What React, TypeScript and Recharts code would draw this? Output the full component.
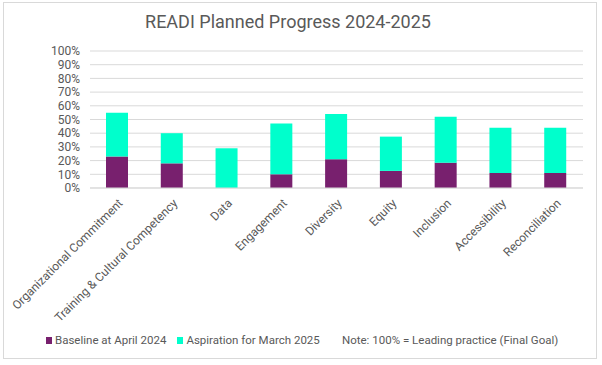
import { BarChart, Bar, XAxis, YAxis, CartesianGrid, Legend } from 'recharts';

// Values (fractions of the final goal)
const categories = [
  'Organizational Commitment',
  'Training & Cultural Competency',
  'Data',
  'Engagement',
  'Diversity',
  'Equity',
  'Inclusion',
  'Accessibility',
  'Reconciliation',
];
const baseline = [0.23, 0.18, 0, 0.1, 0.21, 0.125, 0.185, 0.11, 0.11];
// stacked on top of baseline
const aspiration = [0.32, 0.22, 0.29, 0.37, 0.33, 0.25, 0.335, 0.33, 0.33];
const yTicks = [0, 0.1, 0.2, 0.3, 0.4, 0.5, 0.6, 0.7, 0.8, 0.9, 1];
const seriesNames = ['Baseline at April 2024', 'Aspiration for March 2025'];

const PURPLE = '#78206E';
const TEAL = '#00FFCC';
const TEXT = '#595959';
const FONT = 'Roboto, "Liberation Sans", sans-serif';

const data = categories.map((name, i) => ({
  name,
  baseline: baseline[i],
  aspiration: aspiration[i],
}));

function AngledTick({ x, y, payload }: any) {
  return (
    <g transform={`translate(${x + 6},${y + 16})`}>
      <text
        transform="rotate(-45)"
        textAnchor="end"
        fill={TEXT}
        fontSize={12}
        fontFamily={FONT}
      >
        {payload.value}
      </text>
    </g>
  );
}

function LegendBox({ payload }: any) {
  // keep series order as in the original legend
  const items = seriesNames
    .map((n) => (payload || []).find((p: any) => p.value === n))
    .filter(Boolean);
  return (
    <div style={{ position: 'relative', display: 'flex', alignItems: 'center', fontFamily: FONT, fontSize: 11.5, color: TEXT }}>
      {items.map((p: any) => (
        <span key={p.value} style={{ display: 'flex', alignItems: 'center', marginRight: 11 }}>
          <span style={{ width: 6, height: 7, background: p.color, marginRight: 3, display: 'inline-block' }} />
          {p.value}
        </span>
      ))}
      <span style={{ position: 'absolute', left: 296, top: 0 }}>Note: 100% = Leading practice (Final Goal)</span>
    </div>
  );
}

export default function App() {
  return (
    <div style={{ position: 'relative', width: 602, height: 365, background: '#fff' }}>
      <style>{`body{margin:0}`}</style>
      <div
        style={{
          position: 'absolute',
          left: 3,
          top: 2,
          width: 594,
          height: 357,
          border: '1px solid #d9d9d9',
          boxSizing: 'border-box',
        }}
      />
      <div
        style={{
          position: 'absolute',
          left: 0,
          width: 576,
          top: 11,
          textAlign: 'center',
          fontFamily: FONT,
          fontSize: 18,
          color: TEXT,
        }}
      >
        READI Planned Progress 2024-2025
      </div>
      <BarChart
        width={602}
        height={365}
        data={data}
        margin={{ top: 51, right: 19, left: 0, bottom: 38 }}
        barSize={22}
      >
        <CartesianGrid vertical={false} stroke="#d9d9d9" />
        <XAxis
          dataKey="name"
          interval={0}
          height={125}
          tickLine={false}
          tickSize={0}
          tickMargin={0}
          axisLine={{ stroke: '#d9d9d9' }}
          tick={<AngledTick />}
        />
        <YAxis
          width={90}
          domain={[0, 1]}
          ticks={yTicks}
          interval={0}
          tickFormatter={(v: number) => `${Math.round(v * 100)}%`}
          axisLine={false}
          tickLine={false}
          tickSize={0}
          tickMargin={10}
          tick={{ fill: TEXT, fontSize: 12, fontFamily: FONT }}
        />
        <Legend
          content={<LegendBox />}
          wrapperStyle={{ position: 'absolute', top: 333, left: 46, width: 560 }}
        />
        <Bar dataKey="baseline" name={seriesNames[0]} stackId="a" fill={PURPLE} isAnimationActive={false} />
        <Bar dataKey="aspiration" name={seriesNames[1]} stackId="a" fill={TEAL} isAnimationActive={false} />
      </BarChart>
    </div>
  );
}
